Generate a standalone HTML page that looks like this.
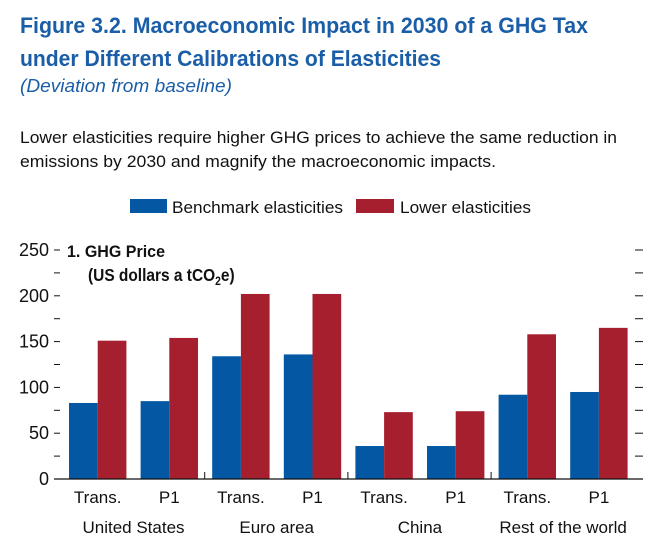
<!DOCTYPE html>
<html><head><meta charset="utf-8"><style>
body{margin:0;background:#fff}
svg text{font-family:"Liberation Sans",sans-serif}
</style></head><body>
<svg id="c" width="650" height="546" xmlns="http://www.w3.org/2000/svg">
<text x="20" y="33" font-size="22" font-weight="bold" fill="#1b5ea8" textLength="568" lengthAdjust="spacingAndGlyphs">Figure 3.2.  Macroeconomic Impact in 2030 of a GHG Tax</text>
<text x="20" y="66" font-size="22" font-weight="bold" fill="#1b5ea8" textLength="421" lengthAdjust="spacingAndGlyphs">under Different Calibrations of Elasticities</text>
<text x="20" y="92" font-size="18" font-style="italic" fill="#1b5ea8" textLength="212" lengthAdjust="spacingAndGlyphs">(Deviation from baseline)</text>
<text x="20" y="143" font-size="17" fill="#111" textLength="597" lengthAdjust="spacingAndGlyphs">Lower elasticities require higher GHG prices to achieve the same reduction in</text>
<text x="20" y="167" font-size="17" fill="#111" textLength="476" lengthAdjust="spacingAndGlyphs">emissions by 2030 and magnify the macroeconomic impacts.</text>
<rect x="130" y="199" width="37" height="14" fill="#0357a3"/>
<text x="172" y="213" font-size="17" fill="#111" textLength="171" lengthAdjust="spacingAndGlyphs">Benchmark elasticities</text>
<rect x="356" y="199" width="38" height="14" fill="#a61f2f"/>
<text x="400" y="213" font-size="17" fill="#111" textLength="131" lengthAdjust="spacingAndGlyphs">Lower elasticities</text>
<text x="67" y="257" font-size="17" font-weight="bold" fill="#111" textLength="98" lengthAdjust="spacingAndGlyphs">1. GHG Price</text>
<g transform="translate(88,281) scale(0.86,1)">
<text x="0" y="0" font-size="18" font-weight="bold" fill="#111">(US dollars a tCO<tspan font-size="12" dy="4">2</tspan><tspan dy="-4">e)</tspan></text>
</g>
<g id="plot"></g>
</svg>
<script>
const categories=["Trans.","P1","Trans.","P1","Trans.","P1","Trans.","P1"];
const groups=["United States","Euro area","China","Rest of the world"];
const benchmark=[83,85,134,136,36,36,92,95];
const lower=[151,154,202,202,73,74,158,165];
const yTicks=[0,50,100,150,200,250];
const NS="http://www.w3.org/2000/svg";
const g=document.getElementById('plot');
const y0=479,pxPer=0.916;
const y=v=>y0-v*pxPer;
const x=i=>69+i*71.6;
const bw=28.7;
function el(t,a){const e=document.createElementNS(NS,t);for(const k in a)e.setAttribute(k,a[k]);g.appendChild(e);return e;}
benchmark.forEach((v,i)=>{const r=el('rect',{x:x(i),y:y(v),width:bw,height:v*pxPer,fill:'#0357a3'});

});
lower.forEach((v,i)=>{const r=el('rect',{x:x(i)+bw,y:y(v),width:bw,height:v*pxPer,fill:'#a61f2f'});

});
const ax=el('line',{x1:54,x2:643,y1:y0,y2:y0,stroke:'#111','stroke-width':1.3});


for(let v=0;v<=250;v+=25){
 const t1=el('line',{x1:54,x2:60,y1:y(v),y2:y(v),stroke:'#111'});
 
 
 const t2=el('line',{x1:635,x2:643,y1:y(v),y2:y(v),stroke:'#111'});
 
 
}
yTicks.forEach(v=>{const t=el('text',{x:49,y:y(v)+6,'font-size':18,'text-anchor':'end',fill:'#111'});t.textContent=v;

});
[1,2,3].forEach(k=>{const s=el('line',{x1:x(2*k)-7.5,x2:x(2*k)-7.5,y1:y0-7,y2:y0,stroke:'#111'});

});
categories.forEach((c,i)=>{const t=el('text',{x:x(i)+bw,y:503,'font-size':17,'text-anchor':'middle',fill:'#111'});t.textContent=c;

});
groups.forEach((c,k)=>{const t=el('text',{x:(x(2*k)+x(2*k+1))/2+bw,y:533,'font-size':17,'text-anchor':'middle',fill:'#111'});t.textContent=c;

});
</script>
</body></html>
